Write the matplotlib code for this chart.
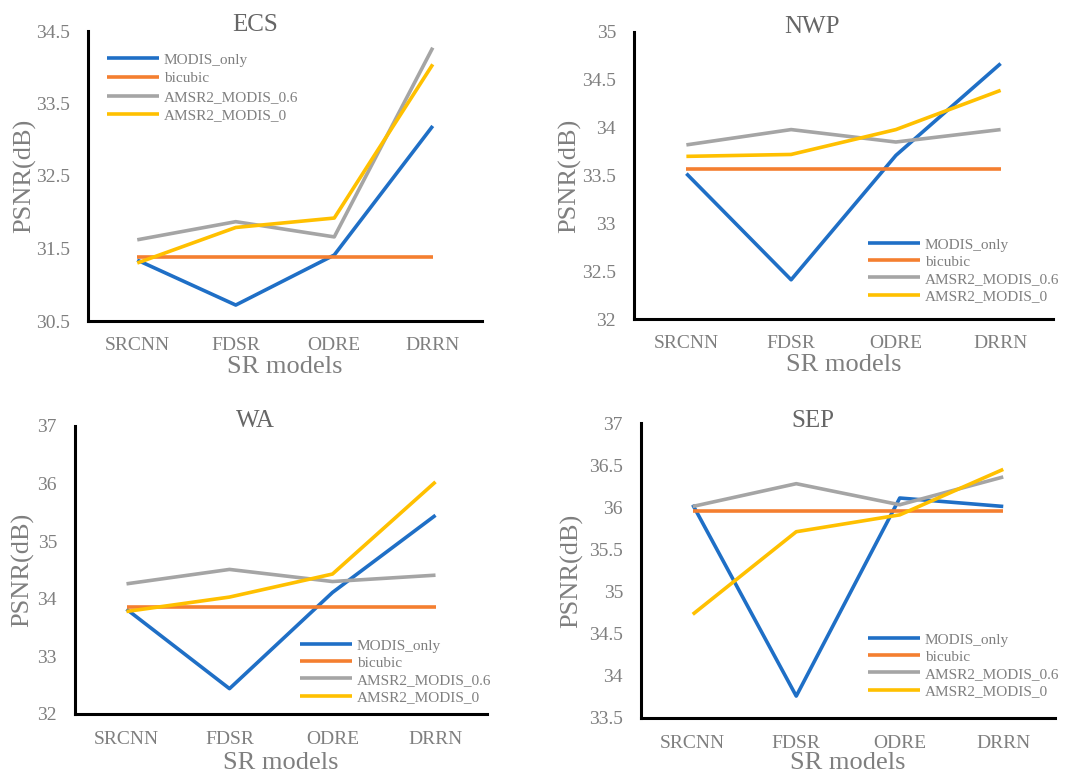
import matplotlib
matplotlib.use("Agg")
import matplotlib.pyplot as plt

plt.rcParams['font.family'] = ['Liberation Serif', 'DejaVu Serif']

models = ["SRCNN", "FDSR", "ODRE", "DRRN"]
series_names = ["MODIS_only", "bicubic", "AMSR2_MODIS_0.6", "AMSR2_MODIS_0"]
colors = ["#1F6FC6", "#F47F30", "#A5A5A5", "#FFC000"]

ecs_modis = [31.34, 30.72, 31.41, 33.19]
ecs_bicubic = [31.38, 31.38, 31.38, 31.38]
ecs_amsr06 = [31.62, 31.87, 31.66, 34.27]
ecs_amsr0 = [31.30, 31.79, 31.92, 34.04]

nwp_modis = [33.52, 32.41, 33.71, 34.67]
nwp_bicubic = [33.57, 33.57, 33.57, 33.57]
nwp_amsr06 = [33.82, 33.98, 33.85, 33.98]
nwp_amsr0 = [33.70, 33.72, 33.98, 34.39]

wa_modis = [33.82, 32.44, 34.11, 35.45]
wa_bicubic = [33.86, 33.86, 33.86, 33.86]
wa_amsr06 = [34.26, 34.51, 34.30, 34.41]
wa_amsr0 = [33.78, 34.03, 34.43, 36.03]

sep_modis = [36.03, 33.76, 36.11, 36.01]
sep_bicubic = [35.96, 35.96, 35.96, 35.96]
sep_amsr06 = [36.01, 36.28, 36.03, 36.36]
sep_amsr0 = [34.73, 35.71, 35.91, 36.45]

ecs_ticks = [30.5, 31.5, 32.5, 33.5, 34.5]
nwp_ticks = [32, 32.5, 33, 33.5, 34, 34.5, 35]
wa_ticks = [32, 33, 34, 35, 36, 37]
sep_ticks = [33.5, 34, 34.5, 35, 35.5, 36, 36.5, 37]

W, H = 1080, 772
fig = plt.figure(figsize=(W / 100, H / 100), dpi=100)

TXT = "#7F7F7F"
TITLE = "#666666"

panels = [
    dict(title="ECS", data=[ecs_modis, ecs_bicubic, ecs_amsr06, ecs_amsr0], ticks=ecs_ticks,
         box=(88, 31, 482, 321), title_xy=(255, 25), ylab_x=25, xt_y=345, xl_y=367,
         leg=(107, 53), lsp=0.32),
    dict(title="NWP", data=[nwp_modis, nwp_bicubic, nwp_amsr06, nwp_amsr0], ticks=nwp_ticks,
         box=(634, 32, 1053, 319), title_xy=(812, 27), ylab_x=570, xt_y=343, xl_y=365,
         leg=(868, 238), lsp=0.22),
    dict(title="WA", data=[wa_modis, wa_bicubic, wa_amsr06, wa_amsr0], ticks=wa_ticks,
         box=(75, 426, 487, 714), title_xy=(255, 421), ylab_x=23, xt_y=739, xl_y=763,
         leg=(300, 639), lsp=0.22),
    dict(title="SEP", data=[sep_modis, sep_bicubic, sep_amsr06, sep_amsr0], ticks=sep_ticks,
         box=(641, 423, 1055, 718), title_xy=(813, 421), ylab_x=572, xt_y=744, xl_y=763,
         leg=(868, 633), lsp=0.22),
]

for p in panels:
    x0, y0, x1, y1 = p["box"]
    ax = fig.add_axes([x0 / W, 1 - y1 / H, (x1 - x0) / W, (y1 - y0) / H])
    xs = [i + 0.5 for i in range(len(models))]
    for vals, name, c in zip(p["data"], series_names, colors):
        ax.plot(xs, vals, color=c, lw=2.6, label=name, solid_capstyle='butt')
    ax.set_xlim(0, len(models))
    ax.set_ylim(p["ticks"][0], p["ticks"][-1])
    ax.set_yticks(p["ticks"])
    ax.set_yticklabels([f"{t:g}" for t in p["ticks"]])
    ax.set_xticks(xs)
    ax.tick_params(axis='both', length=0, labelsize=14, labelcolor=TXT)
    ax.tick_params(axis='y', pad=13)
    for s in ["top", "right"]:
        ax.spines[s].set_visible(False)
    for s in ["left", "bottom"]:
        ax.spines[s].set_linewidth(2.2)
        ax.spines[s].set_color("black")
    ax.patch.set_alpha(0)
    ax.set_xticklabels([])
    for xv, m in zip(xs, models):
        xp = x0 + (x1 - x0) * xv / len(models)
        fig.text(xp / W, 1 - p["xt_y"] / H, m, ha='center', va='center', fontsize=14, color=TXT)
    fig.text(((x0 + x1) / 2) / W, 1 - p["xl_y"] / H, "SR models", ha='center', va='center',
             fontsize=19, color=TXT)
    fig.text(p["ylab_x"] / W, 1 - ((y0 + y1) / 2) / H, "PSNR(dB)", ha='center', va='center',
             rotation=90, fontsize=19, color=TXT)
    fig.text(p["title_xy"][0] / W, 1 - p["title_xy"][1] / H, p["title"], ha='center', va='center',
             fontsize=18, color=TITLE)
    lx, ly = p["leg"]
    leg = ax.legend(loc='upper left', bbox_to_anchor=(lx / W, 1 - ly / H),
                    bbox_transform=fig.transFigure, frameon=False, fontsize=11,
                    handlelength=3.4, handletextpad=0.3, labelspacing=p["lsp"],
                    borderpad=0, borderaxespad=0)
    for t in leg.get_texts():
        t.set_color(TXT)

fig.savefig("out.png", dpi=100)
